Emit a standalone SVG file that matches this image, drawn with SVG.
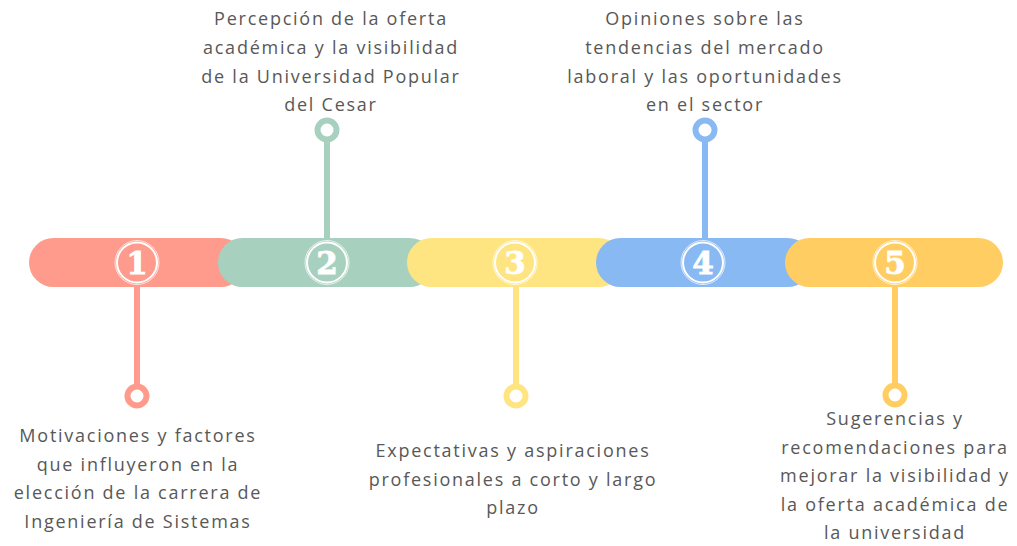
<svg xmlns="http://www.w3.org/2000/svg" width="1017" height="546" viewBox="0 0 1017 546">
<style>
.t{font-family:"Open Sans","Liberation Sans",sans-serif;font-size:18px;fill:#585858;letter-spacing:1.75px;text-anchor:middle}
.num{font-family:"DejaVu Serif","Liberation Serif",serif;font-weight:bold;font-size:31px;fill:#fff;stroke:#fff;stroke-width:0.8;text-anchor:middle}
.ring{fill:none;stroke:#fff;stroke-width:2}
.ring2{fill:none;stroke:#fff;stroke-width:1;opacity:0.7}
.stem{stroke-width:6;fill:none}
.end{fill:#fff;stroke-width:6}
</style>
<rect width="1017" height="546" fill="#fff"/>
<g id="connectors">
<line class="stem" x1="137" y1="280" x2="137" y2="386" stroke="#FE9B8C"/>
<circle class="end" cx="137" cy="396" r="9.5" stroke="#FE9B8C"/>
<line class="stem" x1="327" y1="240" x2="327" y2="140" stroke="#A8D0BF"/>
<circle class="end" cx="327" cy="130" r="9.5" stroke="#A8D0BF"/>
<line class="stem" x1="516" y1="280" x2="516" y2="386" stroke="#FFE482"/>
<circle class="end" cx="516" cy="396" r="9.5" stroke="#FFE482"/>
<line class="stem" x1="705" y1="240" x2="705" y2="140" stroke="#88B9F3"/>
<circle class="end" cx="705" cy="130" r="9.5" stroke="#88B9F3"/>
<line class="stem" x1="895" y1="280" x2="895" y2="385" stroke="#FFCD62"/>
<circle class="end" cx="895" cy="395" r="9.5" stroke="#FFCD62"/>
</g>
<g id="node1">
<rect x="29" y="238" width="216" height="49" rx="24.5" fill="#FE9B8C"/>
<circle class="ring" cx="137" cy="262.5" r="20"/><circle class="ring2" cx="137" cy="262.5" r="22"/>
<text class="num" x="137" y="273.5">1</text>
<text class="t" x="138" y="442">Motivaciones y factores</text>
<text class="t" x="138" y="470.5">que influyeron en la</text>
<text class="t" x="138" y="499">elección de la carrera de</text>
<text class="t" x="138" y="528">Ingeniería de Sistemas</text>
</g>
<g id="node2">
<rect x="218" y="238" width="216" height="49" rx="24.5" fill="#A8D0BF"/>
<circle class="ring" cx="327" cy="262.5" r="20"/><circle class="ring2" cx="327" cy="262.5" r="22"/>
<text class="num" x="327" y="273.5">2</text>
<text class="t" x="331" y="25">Percepción de la oferta</text>
<text class="t" x="331" y="54">académica y la visibilidad</text>
<text class="t" x="331" y="83">de la Universidad Popular</text>
<text class="t" x="331" y="111">del Cesar</text>
</g>
<g id="node3">
<rect x="407" y="238" width="216" height="49" rx="24.5" fill="#FFE482"/>
<circle class="ring" cx="515" cy="262.5" r="20"/><circle class="ring2" cx="515" cy="262.5" r="22"/>
<text class="num" x="515" y="273.5">3</text>
<text class="t" x="513" y="457">Expectativas y aspiraciones</text>
<text class="t" x="513" y="486">profesionales a corto y largo</text>
<text class="t" x="513" y="514">plazo</text>
</g>
<g id="node4">
<rect x="596" y="238" width="216" height="49" rx="24.5" fill="#88B9F3"/>
<circle class="ring" cx="703" cy="262.5" r="20"/><circle class="ring2" cx="703" cy="262.5" r="22"/>
<text class="num" x="703" y="273.5">4</text>
<text class="t" x="705" y="25">Opiniones sobre las</text>
<text class="t" x="705" y="54">tendencias del mercado</text>
<text class="t" x="705" y="83">laboral y las oportunidades</text>
<text class="t" x="705" y="111">en el sector</text>
</g>
<g id="node5">
<rect x="785" y="238" width="218" height="49" rx="24.5" fill="#FFCD62"/>
<circle class="ring" cx="895" cy="262.5" r="20"/><circle class="ring2" cx="895" cy="262.5" r="22"/>
<text class="num" x="895" y="273.5">5</text>
<text class="t" x="895" y="425">Sugerencias y</text>
<text class="t" x="895" y="454">recomendaciones para</text>
<text class="t" x="895" y="482">mejorar la visibilidad y</text>
<text class="t" x="895" y="511">la oferta académica de</text>
<text class="t" x="895" y="539">la universidad</text>
</g>
</svg>
